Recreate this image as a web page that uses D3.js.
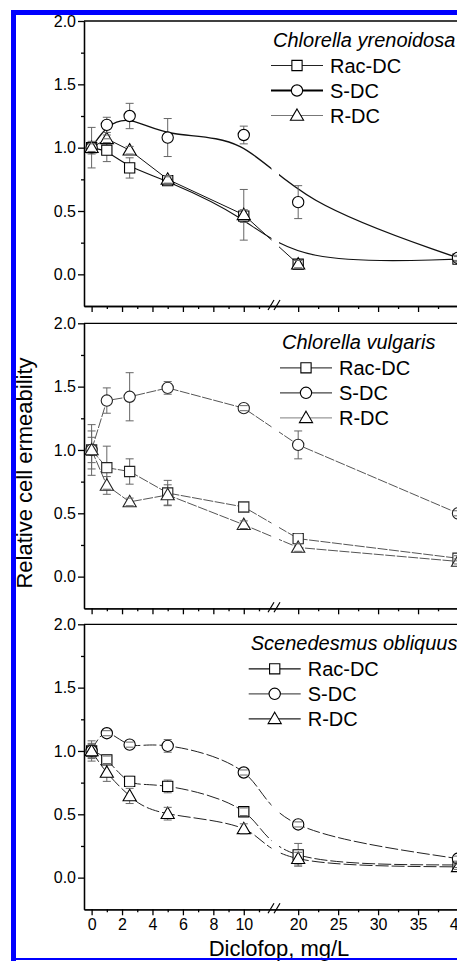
<!DOCTYPE html>
<html>
<head>
<meta charset="utf-8">
<script src="https://cdn.jsdelivr.net/npm/d3@7"></script>
<style>
  body { margin: 0; background: #fff; }
  text { font-family: "Liberation Sans", Arial, sans-serif; }
</style>
</head>
<body>
<svg id="chart" width="457" height="961"></svg>
<script>
// concentrations (mg/L)
const doses = [0, 1, 2.5, 5, 10, 20, 40];
const seriesNames = ["Rac-DC", "S-DC", "R-DC"];
const species = ["Chlorella yrenoidosa", "Chlorella vulgaris", "Scenedesmus obliquus"];

// Chlorella pyrenoidosa
const pyrRac    = [1.00, 0.98, 0.84, 0.74, 0.46, 0.08, 0.12];
const pyrRacErr = [0.16, 0.09, 0.08, 0.03, 0.05, 0.03, 0.02];
const pyrS      = [1.00, 1.18, 1.25, 1.08, 1.10, 0.57, 0.13];
const pyrSErr   = [0.05, 0.06, 0.10, 0.15, 0.07, 0.13, 0.02];
const pyrR      = [1.00, 1.07, 0.98, 0.75, 0.47, 0.08, null];
const pyrRErr   = [0.03, 0.03, 0.03, 0.03, 0.20, 0.03, null];

// Chlorella vulgaris
const vulRac    = [1.00, 0.86, 0.83, 0.66, 0.55, 0.30, 0.145];
const vulRacErr = [0.15, 0.17, 0.10, 0.10, 0.04, 0.04, 0.02];
const vulS      = [1.00, 1.39, 1.42, 1.49, 1.33, 1.04, 0.50];
const vulSErr   = [0.20, 0.10, 0.19, 0.05, 0.02, 0.11, 0.02];
const vulR      = [1.00, 0.72, 0.59, 0.645, 0.41, 0.23, 0.12];
const vulRErr   = [0.10, 0.07, 0.03, 0.08, 0.03, 0.03, 0.02];

// Scenedesmus obliquus
const oblRac    = [1.00, 0.93, 0.76, 0.72, 0.52, 0.18, 0.10];
const oblRacErr = [0.08, 0.03, 0.04, 0.05, 0.03, 0.09, 0.02];
const oblS      = [1.00, 1.14, 1.05, 1.04, 0.83, 0.42, 0.15];
const oblSErr   = [0.05, 0.02, 0.02, 0.05, 0.02, 0.02, 0.02];
const oblR      = [1.00, 0.83, 0.645, 0.505, 0.385, 0.15, 0.085];
const oblRErr   = [0.06, 0.07, 0.06, 0.05, 0.04, 0.05, 0.02];

const yMajor = [0, 0.5, 1.0, 1.5, 2.0];
const yMinor = [0.25, 0.75, 1.25, 1.75];
const xMajor = [0, 2, 4, 6, 8, 10, 20, 25, 30, 35, 40];
const xMinor = [1, 3, 5, 7, 9, 11, 22.5, 27.5, 32.5, 37.5];

const panels = [
  { title: species[0], values: [pyrRac, pyrS, pyrR], errs: [pyrRacErr, pyrSErr, pyrRErr] },
  { title: species[1], values: [vulRac, vulS, vulR], errs: [vulRacErr, vulSErr, vulRErr] },
  { title: species[2], values: [oblRac, oblS, oblR], errs: [oblRacErr, oblSErr, oblRErr] }
];

// look of each panel
const looks = [
  { top: 21, legX: 271, stroke: "#111", dash: null, width: [1.1, 1.4, 1.0],
    curves: [d3.curveBasis, d3.curveBasis, d3.curveLinear], legStroke: ["#222", "#000", "#777"], legW: [1, 2, 1] },
  { top: 323.3, legX: 280, stroke: "#555", dash: "10,1.5", width: [1, 1, 1],
    curves: [d3.curveLinear, d3.curveLinear, d3.curveLinear], legStroke: ["#444", "#444", "#999"], legW: [1.3, 1.3, 1.3] },
  { top: 624.3, legX: 248.7, stroke: "#222", dash: "13,3", width: [1, 1, 1],
    curves: [d3.curveNatural, d3.curveNatural, d3.curveNatural], legStroke: ["#111", "#555", "#222"], legW: [1.2, 1.2, 1.2] }
];

const symbols = [d3.symbolSquare, d3.symbolCircle, d3.symbolTriangle];
const symSize = [105, 100, 75];

const svg = d3.select("#chart");
svg.append("rect").attr("width", 457).attr("height", 961).attr("fill", "#fff");

const x = d3.scaleLinear()
  .domain([-0.5, 12, 17, 42])
  .range([84, 274.2, 274.2, 474]);

const yAxisX = 84;
const panelH = 285;

panels.forEach((p, pi) => {
  const look = looks[pi];
  const top = look.top;
  const y = d3.scaleLinear().domain([-0.25, 2]).range([top + panelH, top]);
  const g = svg.append("g");
  const bottom = y(-0.25);

  // lines
  p.values.forEach((vals, si) => {
    const pts = doses.map((d, i) => ({ x: d, v: vals[i] })).filter(d => d.v != null);
    g.append("path")
      .attr("d", d3.line().x(d => x(d.x)).y(d => y(d.v)).curve(look.curves[si])(pts))
      .attr("fill", "none")
      .attr("stroke", look.stroke)
      .attr("stroke-width", look.width[si])
      .attr("stroke-dasharray", look.dash);
  });

  // gap at the axis break
  g.append("rect")
    .attr("x", 271.5).attr("y", top + 2)
    .attr("width", 7.5).attr("height", bottom - top - 4)
    .attr("fill", "#fff");

  // error bar stems
  p.values.forEach((vals, si) => {
    doses.forEach((d, i) => {
      if (vals[i] == null) return;
      const e = p.errs[si][i];
      g.append("line")
        .attr("x1", x(d)).attr("x2", x(d))
        .attr("y1", y(vals[i] - e)).attr("y2", y(vals[i] + e))
        .attr("stroke", "#666").attr("stroke-width", 1);
    });
  });

  // markers
  p.values.forEach((vals, si) => {
    doses.forEach((d, i) => {
      if (vals[i] == null) return;
      g.append("path")
        .attr("d", d3.symbol().type(symbols[si]).size(symSize[si])())
        .attr("transform", `translate(${x(d)},${y(vals[i]) + (si === 2 ? 1 : 0)})`)
        .attr("fill", "#fff")
        .attr("stroke", pi === 1 ? "#222" : "#000")
        .attr("stroke-width", 1.1);
    });
  });

  // error bar caps (drawn over markers)
  p.values.forEach((vals, si) => {
    doses.forEach((d, i) => {
      if (vals[i] == null) return;
      const e = p.errs[si][i];
      [vals[i] - e, vals[i] + e].forEach(v => {
        g.append("line")
          .attr("x1", x(d) - 4).attr("x2", x(d) + 4)
          .attr("y1", y(v)).attr("y2", y(v))
          .attr("stroke", "#666").attr("stroke-width", 1);
      });
    });
  });

  // axes
  const yAx = g.append("g").attr("transform", `translate(${yAxisX},0)`)
    .call(d3.axisLeft(y).tickValues(yMajor).tickSize(6).tickSizeOuter(0).tickFormat(d3.format(".1f")));
  g.append("g").attr("transform", `translate(${yAxisX},0)`)
    .call(d3.axisLeft(y).tickValues(yMinor).tickSize(3).tickSizeOuter(0).tickFormat(""));
  const xAx = g.append("g").attr("transform", `translate(0,${bottom})`)
    .call(d3.axisBottom(x).tickValues(xMajor).tickSize(6).tickSizeOuter(0)
      .tickFormat(pi === 2 ? d3.format("d") : ""));
  g.append("g").attr("transform", `translate(0,${bottom})`)
    .call(d3.axisBottom(x).tickValues(xMinor).tickSize(3).tickSizeOuter(0).tickFormat(""));

  g.selectAll(".domain, .tick line").attr("stroke", "#000").attr("stroke-width", 1.3);
  yAx.selectAll("text").attr("font-size", 16).attr("fill", "#000").attr("x", -8);
  xAx.selectAll("text").attr("font-size", 16).attr("fill", "#000").attr("y", 9);

  // top frame line
  g.append("line")
    .attr("x1", yAxisX).attr("x2", 457)
    .attr("y1", top).attr("y2", top)
    .attr("stroke", "#000").attr("stroke-width", 1.3);

  // break marks
  [268, 274].forEach(bx => {
    g.append("line")
      .attr("x1", bx).attr("y1", bottom + 4)
      .attr("x2", bx + 6).attr("y2", bottom - 6)
      .attr("stroke", "#000").attr("stroke-width", 1.2);
  });

  // legend
  const lx = look.legX;
  g.append("text")
    .attr("x", lx + 2).attr("y", top + 25.5)
    .attr("font-size", 20).attr("font-style", "italic")
    .text(p.title);
  seriesNames.forEach((name, si) => {
    const ly = top + 44.5 + si * 25;
    g.append("line")
      .attr("x1", lx).attr("x2", lx + 52)
      .attr("y1", ly).attr("y2", ly)
      .attr("stroke", look.legStroke[si]).attr("stroke-width", look.legW[si]);
    g.append("path")
      .attr("d", d3.symbol().type(symbols[si]).size(symSize[si])())
      .attr("transform", `translate(${lx + 26},${ly + (si === 2 ? 1 : 0)})`)
      .attr("fill", "#fff").attr("stroke", "#000").attr("stroke-width", 1.1);
    g.append("text")
      .attr("x", lx + 59).attr("y", ly + 7)
      .attr("font-size", 20)
      .text(name);
  });
});

// axis titles
svg.append("text")
  .attr("transform", "translate(32,473) rotate(-90)")
  .attr("text-anchor", "middle")
  .attr("font-size", 22)
  .text("Relative cell ermeability");

svg.append("text")
  .attr("x", 279).attr("y", 956)
  .attr("text-anchor", "middle")
  .attr("font-size", 22)
  .text("Diclofop, mg/L");

// blue frame
svg.append("rect").attr("x", 11).attr("y", 10).attr("width", 446).attr("height", 5).attr("fill", "#0000ff");
svg.append("rect").attr("x", 11).attr("y", 10).attr("width", 5).attr("height", 951).attr("fill", "#0000ff");
svg.append("rect").attr("x", 11).attr("y", 958).attr("width", 446).attr("height", 2).attr("fill", "#0000ff");
</script>
</body>
</html>
